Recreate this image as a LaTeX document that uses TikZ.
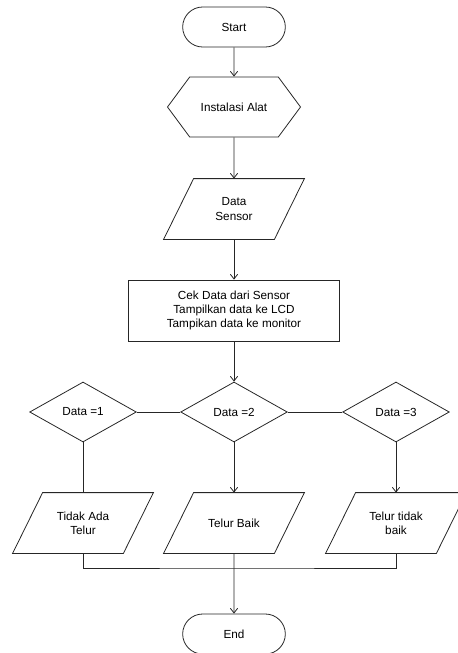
\documentclass[tikz,border=0pt]{standalone}
\usepackage{fontspec}
\setmainfont{Liberation Sans}
\usetikzlibrary{shapes.misc,shapes.geometric,shapes.symbols,arrows.meta}

\begin{document}
\begin{tikzpicture}[x=0.75pt,y=-0.75pt,
    every node/.style={font=\fontsize{8.8}{10.8}\selectfont, draw=black!85, line width=0.6pt, inner sep=2pt, align=center},
    flow/.style={draw=black!85, line width=0.6pt},
    flowarrow/.style={flow, -{Straight Barb[length=3.5pt,width=5.5pt]}},
    terminal/.style={rounded rectangle, minimum width=81pt, minimum height=30pt},
    prep/.style={signal, signal to=east and west, signal pointer angle=107, minimum width=99.75pt, minimum height=45pt},
    io/.style={draw=none, inner sep=0pt, minimum width=82.5pt, minimum height=45pt,
      append after command={\pgfextra{\draw[flow] ([xshift=11.25pt]\tikzlastnode.north west)
        -- ([xshift=11.25pt]\tikzlastnode.north east) -- ([xshift=-11.25pt]\tikzlastnode.south east)
        -- ([xshift=-11.25pt]\tikzlastnode.south west) -- cycle;}}},
    proc/.style={rectangle, minimum width=158pt, minimum height=45.75pt},
    decision/.style={diamond, minimum width=80pt, minimum height=45pt, inner sep=0pt}]
    \useasboundingbox (0,0) rectangle (457,653);
    \node[terminal] (start) at (234,27) {Start};
    \node[prep] (install) at (234,107) {Instalasi Alat};
    \node[io] (sensor) at (234,209) {Data\\Sensor};
    \node[proc] (cek) at (234,310.5) {Cek Data dari Sensor\\Tampilkan data ke LCD\\Tampikan data ke monitor};
    \node[decision] (d1) at (83,412) {Data =1};
    \node[decision] (d2) at (234,412) {Data =2};
    \node[decision] (d3) at (396,412) {Data =3};
    \node[io] (p1) at (83,523) {Tidak Ada\\Telur};
    \node[io] (p2) at (234,523) {Telur Baik};
    \node[io] (p3) at (396,523) {Telur tidak\\baik};
    \node[terminal] (end) at (234,634) {End};
    \coordinate (merge) at (234,568);
    \draw[flowarrow] (start) -- (install);
    \draw[flowarrow] (install) -- (sensor);
    \draw[flowarrow] (sensor) -- (cek);
    \draw[flowarrow] (cek) -- (d2);
    \draw[flow] (d1) -- (d2);
    \draw[flow] (d2) -- (d3);
    \draw[flow] (d1) -- (p1);
    \draw[flowarrow] (d2) -- (p2);
    \draw[flowarrow] (d3) -- (p3);
    \draw[flow] (p1.south) |- (merge) -| (p3.south);
    \draw[flowarrow] (p2) -- (end);
  \end{tikzpicture}
\end{document}
